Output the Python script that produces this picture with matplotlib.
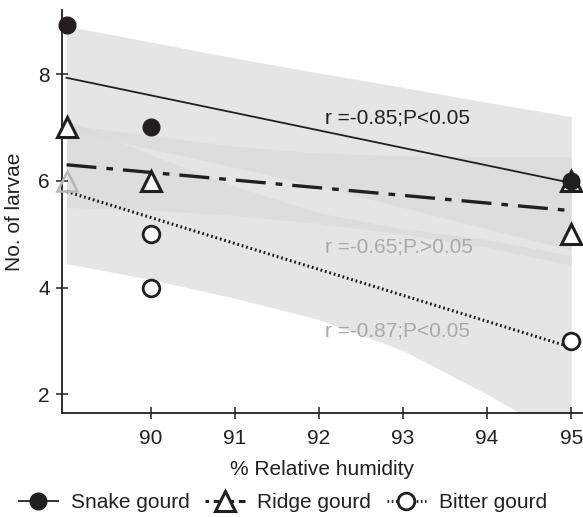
import matplotlib
matplotlib.use("Agg")
import matplotlib.pyplot as plt
from matplotlib.lines import Line2D

plt.rcParams['font.family'] = ['Liberation Sans', 'DejaVu Sans']

# ---- data ----
snake_x = [89, 90, 95]
snake_y = [8.92, 7.0, 6.0]
ridge_x = [89, 90, 95, 95]
ridge_y = [7.0, 6.0, 6.0, 5.0]
bitter_x = [90, 90, 95]
bitter_y = [5.0, 4.0, 3.0]
faded_x = [89]
faded_y = [6.0]

fit_x = [89, 95]
snake_fit = [7.93, 5.96]
ridge_fit = [6.30, 5.44]
bitter_fit = [5.80, 2.88]

band_x = [89, 90, 91, 92, 93, 94, 95]
snake_hi = [8.90, 8.60, 8.30, 8.02, 7.75, 7.47, 7.20]
snake_lo = [6.95, 6.60, 6.25, 5.90, 5.50, 5.10, 4.70]
ridge_hi = [7.05, 6.85, 6.65, 6.52, 6.47, 6.45, 6.45]
ridge_lo = [5.50, 5.45, 5.35, 5.20, 5.00, 4.75, 4.42]
bitter_hi = [7.15, 6.49, 5.90, 5.40, 5.10, 4.90, 4.60]
bitter_lo = [4.45, 4.15, 3.80, 3.40, 2.82, 2.00, 1.10]

x_ticks = [90, 91, 92, 93, 94, 95]
y_ticks = [2, 4, 6, 8]

ann_text = ["r =-0.85;P<0.05", "r =-0.65;P.>0.05", "r =-0.87;P<0.05"]
ann_x = [92.07, 92.07, 92.07]
ann_y = [7.18, 4.76, 3.19]
ann_col = ['#231f20', '#a7a9ac', '#a7a9ac']

legend_labels = ["Snake gourd", "Ridge gourd", "Bitter gourd"]

# ---- figure ----
ink = '#231f20'
fs = 15
fig = plt.figure(figsize=(5.83, 5.17), dpi=100)
ax = fig.add_axes([0.106, 0.2017, 0.892, 0.779])

band_c = '#dadbdd'
for hi, lo in [(bitter_hi, bitter_lo), (snake_hi, snake_lo), (ridge_hi, ridge_lo)]:
    ax.fill_between(band_x, lo, hi, color=band_c, alpha=0.7, lw=0, zorder=1)

ax.plot(fit_x, snake_fit, color=ink, lw=1.3, ls='-', zorder=3)
ax.plot(fit_x, ridge_fit, color=ink, lw=2.4, ls=(0, (9, 3, 2, 3)), zorder=3)
ax.plot(fit_x, bitter_fit, color=ink, lw=2.2, ls=(0, (0.6, 0.9)), zorder=3)

ms = dict(clip_on=False, zorder=5, ls='none')
ax.plot(faded_x, faded_y, marker='^', ms=14, mfc='none', mec='#b5b6b8', mew=1.8, **ms)
ax.plot(bitter_x, bitter_y, marker='o', ms=12, mfc='white', mec=ink, mew=2.0, **ms)
ax.plot(ridge_x, ridge_y, marker='^', ms=14, mfc='white', mec=ink, mew=2.2, **ms)
ax.plot(snake_x, snake_y, marker='o', ms=12, mfc=ink, mec=ink, **ms)

for t, x, y, c in zip(ann_text, ann_x, ann_y, ann_col):
    ax.text(x, y, t, color=c, fontsize=fs, ha='left', va='center', zorder=6)

ax.set_xlim(88.944, 95.126)
ax.set_ylim(1.655, 9.2)
ax.set_xticks(x_ticks)
ax.set_yticks(y_ticks)
ax.tick_params(direction='inout', length=9, width=1.1, colors=ink,
               labelsize=fs)
ax.tick_params(axis='x', pad=7)
ax.tick_params(axis='y', pad=4)
for s in ['top', 'right']:
    ax.spines[s].set_visible(False)
for s in ['left', 'bottom']:
    ax.spines[s].set_color(ink)
    ax.spines[s].set_linewidth(1.3)

ax.set_xlabel("% Relative humidity", fontsize=fs, color=ink, labelpad=9)
ax.set_ylabel("No. of larvae", fontsize=fs, color=ink, labelpad=10)

handles = [
    Line2D([], [], color=ink, lw=1.3, ls='-', marker='o', ms=12, mfc=ink, mec=ink),
    Line2D([], [], color=ink, lw=2.2, ls=(0, (1.2, 1.5, 4, 1.5)), marker='^', ms=14,
           mfc='white', mec=ink, mew=2.2),
    Line2D([], [], color=ink, lw=2.0, ls=(0, (0.6, 0.9)), marker='o', ms=12,
           mfc='white', mec=ink, mew=2.0),
]
fig.legend(handles, legend_labels, loc='lower center', bbox_to_anchor=(0.485, -0.027),
           ncol=3, frameon=False, fontsize=fs, handlelength=1.9,
           columnspacing=0.75, handletextpad=0.6, labelcolor=ink)

fig.savefig("out.png", dpi=100)
